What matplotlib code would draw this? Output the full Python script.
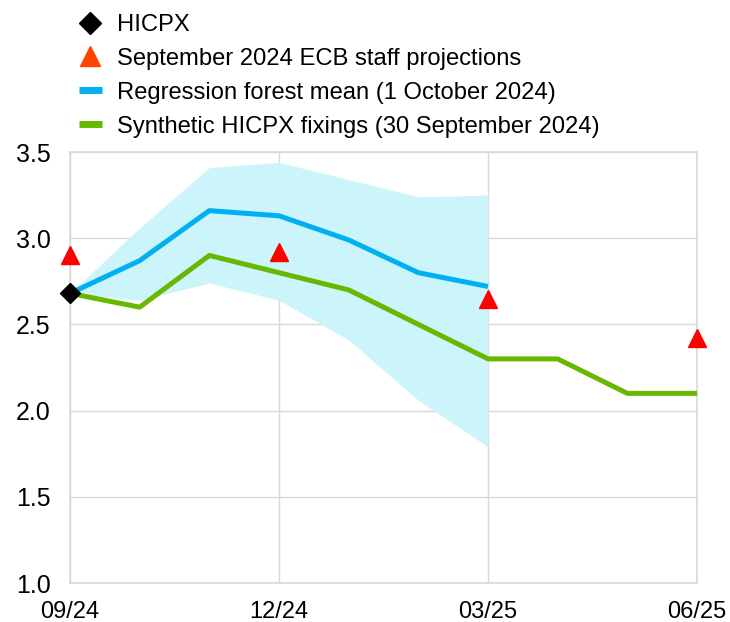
import matplotlib.pyplot as plt
from matplotlib.lines import Line2D

plt.rcParams['font.family'] = ['Liberation Sans', 'DejaVu Sans']

months = ['09/24', '10/24', '11/24', '12/24', '01/25', '02/25', '03/25', '04/25', '05/25', '06/25']
tick_idx = [0, 3, 6, 9]

hicpx = [2.68]
ecb_idx = [0, 3, 6, 9]
ecb_proj = [2.90, 2.92, 2.65, 2.42]
forest_mean = [2.68, 2.87, 3.16, 3.13, 2.99, 2.80, 2.72]
forest_upper = [2.68, 3.06, 3.41, 3.44, 3.34, 3.24, 3.25]
forest_lower = [2.68, 2.64, 2.74, 2.64, 2.41, 2.06, 1.79]
fixings = [2.68, 2.60, 2.90, 2.80, 2.70, 2.50, 2.30, 2.30, 2.10, 2.10]

blue = '#00B0F0'
green = '#66B800'
band = '#CCF4FB'

fig = plt.figure(figsize=(7.3, 6.22), dpi=100)
ax = fig.add_axes([0.0959, 0.0627, 0.8589, 0.6929])

x_f = list(range(len(forest_mean)))
ax.fill_between(x_f, forest_lower, forest_upper, color=band, lw=0, zorder=1)
ax.plot(x_f, forest_mean, color=blue, lw=3.6, zorder=3, solid_capstyle='butt')
ax.plot(range(len(fixings)), fixings, color=green, lw=3.6, zorder=3, solid_capstyle='butt')
ax.plot(ecb_idx, ecb_proj, ls='none', marker='^', ms=13, color='#FF0000', zorder=4,
        clip_on=False)
ax.plot([0], hicpx, ls='none', marker='D', ms=10, color='black', zorder=5, clip_on=False)

ax.set_xlim(0, 9)
ax.set_ylim(1.0, 3.5)
ax.set_xticks(tick_idx)
ax.set_xticklabels([months[i] for i in tick_idx])
ax.set_yticks([1.0, 1.5, 2.0, 2.5, 3.0, 3.5])
ax.set_yticklabels(['1.0', '1.5', '2.0', '2.5', '3.0', '3.5'])
ax.tick_params(axis='x', length=0, labelsize=17, pad=13)
ax.tick_params(axis='y', length=0, labelsize=18, pad=14)
ax.grid(True, color='#D9D9D9', lw=1)
ax.set_axisbelow(True)
for s in ax.spines.values():
    s.set_color('#D9D9D9')
    s.set_linewidth(1.2)

handles = [
    Line2D([], [], ls='none', marker='D', ms=11, color='black'),
    Line2D([], [], ls='none', marker='^', ms=14, color='#FF4500'),
    Line2D([], [], color=blue, lw=5, solid_capstyle='butt'),
    Line2D([], [], color=green, lw=5, solid_capstyle='butt'),
]
labels = ['HICPX', 'September 2024 ECB staff projections',
          'Regression forest mean (1 October 2024)',
          'Synthetic HICPX fixings (30 September 2024)']
fig.legend(handles, labels, loc='upper left', bbox_to_anchor=(0.079, 1.012),
           frameon=False, fontsize=17.1, handlelength=0.95, handletextpad=0.66,
           labelspacing=0.50)

fig.savefig('out.png', dpi=100)
